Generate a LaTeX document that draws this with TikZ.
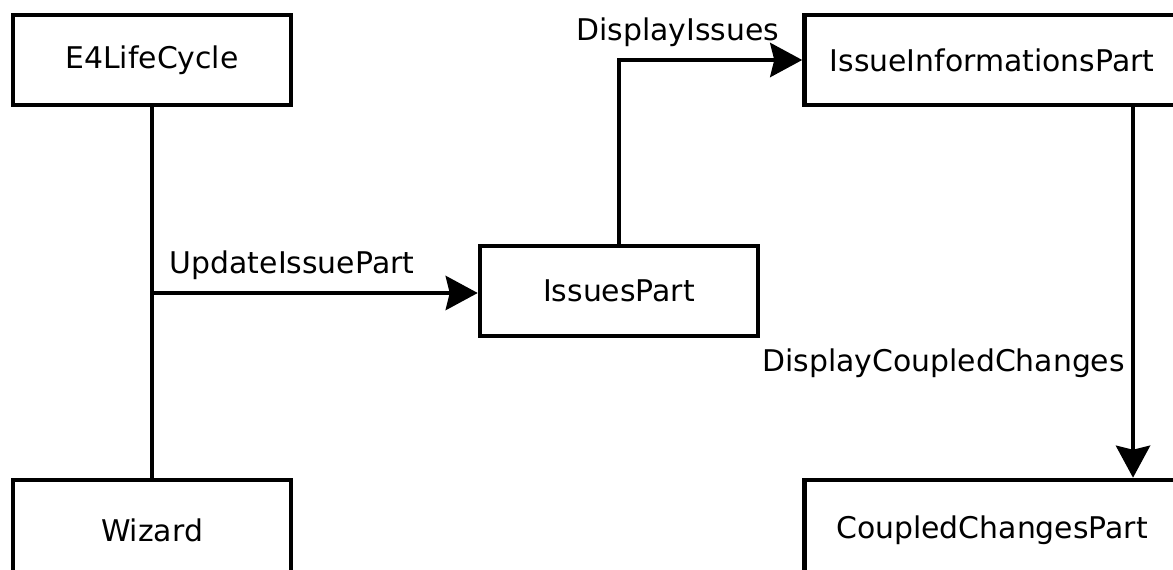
\documentclass[tikz,border=0pt]{standalone}
\usepackage{fontspec}
\setmainfont{DejaVu Sans}
\usepackage{tikz}
\usetikzlibrary{arrows.meta}

\begin{document}
\begin{tikzpicture}[x=0.02cm, y=-0.02cm,
    every node/.style={font=\fontsize{17pt}{20pt}\selectfont},
    part/.style={draw, line width=2.6pt, minimum width=5.56cm, minimum height=1.8cm, inner sep=0pt},
    low/.style={minimum height=2cm},
    wide/.style={minimum width=7.5cm},
    flow/.style={line width=2.6pt, -{Stealth[length=0.64cm, width=0.68cm, inset=0.08cm]}}]
          \useasboundingbox (0, 0) rectangle (1173, 570);
          \node [part] (life) at (152, 60) {E4LifeCycle};
          \node [part, low] (wizard) at (152, 530) {Wizard};
          \node [part] (issues) at (619, 291) {IssuesPart};
          \node [part, wide] (info) at (992, 60) {IssueInformationsPart};
          \node [part, wide, low] (coupled) at (992, 530) {CoupledChangesPart};
          \coordinate (junc) at (life.south |- 0, 293);
          \draw [line width=2.6pt] (life) -- (wizard);
          \draw [flow] (junc) -- node[above=3pt, pos=0.43]{UpdateIssuePart} (junc -| issues.west);
          \draw [flow] (issues) |- node[above=3pt, pos=0.66]{DisplayIssues} (info.west);
          \draw [flow] (info.south -| 1133, 0) -- node[left=0pt, pos=0.69]{DisplayCoupledChanges} (coupled.north -| 1133, 0);
        \end{tikzpicture}
\end{document}
